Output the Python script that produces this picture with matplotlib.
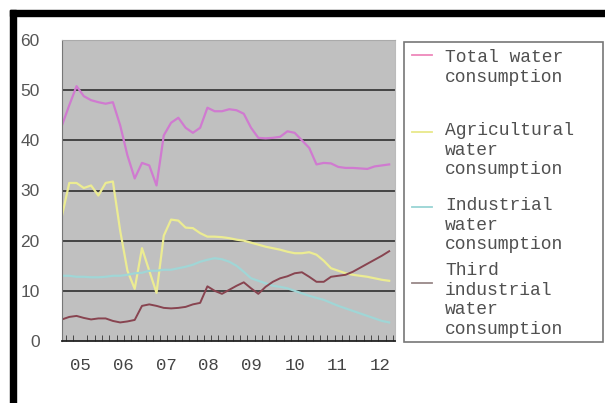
import matplotlib.pyplot as plt
from matplotlib.lines import Line2D
from matplotlib.patches import Rectangle

# values (46 points, 2005-2012)
total = [43.0, 47.0, 50.8, 48.8, 48.0, 47.6, 47.3, 47.6, 43.0, 37.0, 32.4, 35.5,
         35.0, 31.0, 41.0, 43.5, 44.5, 42.5, 41.5, 42.5, 46.5, 45.8, 45.8, 46.2,
         46.0, 45.3, 42.5, 40.5, 40.4, 40.5, 40.7, 41.8, 41.5, 40.0, 38.5, 35.2,
         35.5, 35.4, 34.7, 34.5, 34.5, 34.4, 34.3, 34.8, 35.0, 35.2]
agricultural = [25.0, 31.5, 31.5, 30.5, 31.0, 29.0, 31.5, 31.8, 22.0, 14.0, 10.4, 18.5,
                14.0, 9.6, 21.0, 24.2, 24.0, 22.6, 22.5, 21.5, 20.8, 20.8, 20.7, 20.5,
                20.2, 20.0, 19.6, 19.2, 18.8, 18.5, 18.2, 17.8, 17.5, 17.5, 17.7, 17.2,
                16.0, 14.5, 14.0, 13.5, 13.2, 13.0, 12.8, 12.5, 12.2, 12.0]
industrial = [13.0, 13.0, 12.8, 12.8, 12.7, 12.7, 12.8, 13.0, 13.0, 13.2, 13.5, 13.6,
              14.0, 14.0, 14.2, 14.2, 14.5, 14.8, 15.2, 15.8, 16.2, 16.5, 16.3, 15.8,
              15.0, 13.8, 12.5, 12.0, 11.5, 11.0, 10.8, 10.5, 10.0, 9.5, 9.0, 8.6,
              8.2, 7.6, 7.0, 6.5, 6.0, 5.5, 5.0, 4.5, 4.0, 3.7]
third = [4.3, 4.8, 5.0, 4.6, 4.3, 4.5, 4.5, 4.0, 3.7, 3.9, 4.2, 7.0,
         7.3, 7.0, 6.6, 6.5, 6.6, 6.8, 7.3, 7.6, 10.9, 10.0, 9.4, 10.2,
         11.0, 11.7, 10.5, 9.4, 10.8, 11.8, 12.5, 12.9, 13.5, 13.7, 12.8, 11.8,
         11.8, 12.8, 13.0, 13.2, 13.8, 14.6, 15.4, 16.2, 17.0, 17.9]
year_labels = ['05', '06', '07', '08', '09', '10', '11', '12']
year_pos = [2.5, 8.4, 14.3, 20.2, 26.1, 32.0, 37.9, 43.8]
legend_labels = ['Total water\nconsumption',
                 'Agricultural\nwater\nconsumption',
                 'Industrial\nwater\nconsumption',
                 'Third\nindustrial\nwater\nconsumption']
colors = ['#d07ad0', '#ecec92', '#a0d6d6', '#884450']
legend_colors = ['#ee88bb', '#e8e88a', '#99d4d4', '#998888']

fig = plt.figure(figsize=(6.05, 4.03), dpi=100)
W, H = 605, 403

ax = fig.add_axes([62 / W, 1 - 341 / H, 333 / W, 301 / H])
ax.set_facecolor('#c0c0c0')

x = list(range(len(total)))
widths = [1.6, 1.6, 1.6, 1.4]
for series, c, lw in zip([total, agricultural, industrial, third], colors, widths):
    ax.plot(x, series, color=c, lw=lw)

ax.set_xlim(0, 45.8)
ax.set_ylim(0, 60)
ax.set_yticks(range(0, 61, 10))
for yv in range(10, 60, 10):
    ax.axhline(yv, color='#3a3a3a', lw=1.3, zorder=0.5)

ax.set_xticks(year_pos)
ax.set_xticklabels(year_labels, family='Liberation Mono', fontsize=12.5, color='#444444')
ax.set_xticks([i + 0.5 for i in range(46)], minor=True)
ax.tick_params(axis='x', which='major', length=0, pad=12)
ax.tick_params(axis='x', which='minor', direction='in', length=4, color='#333333')
ax.tick_params(axis='y', length=0, pad=16, labelsize=12.5, labelcolor='#555555')
for lab in ax.get_yticklabels():
    lab.set_family('Liberation Sans')

ax.spines['bottom'].set_color('#222222')
ax.spines['bottom'].set_linewidth(1.3)
ax.spines['left'].set_color('#777777')
ax.spines['top'].set_color('#aaaaaa')
ax.spines['right'].set_color('#bbbbbb')

# legend box drawn beside the plot
fig.add_artist(Rectangle((404 / W, 1 - 342 / H), 199 / W, 300 / H,
                         transform=fig.transFigure, fill=False,
                         edgecolor='#777777', lw=1.2))
handle_y = [55, 132, 207, 283]
text_top = [49, 122, 197, 262]
for lab, c, hy, ty in zip(legend_labels, legend_colors, handle_y, text_top):
    fig.add_artist(Line2D([412 / W, 432 / W], [1 - hy / H, 1 - hy / H],
                          transform=fig.transFigure, color=c, lw=1.3))
    fig.text(445 / W, 1 - ty / H, lab, family='Liberation Mono', fontsize=13,
             color='#505050', va='top', ha='left', linespacing=1.2)

# thick black frame on top and left edge
fig.add_artist(Rectangle((10 / W, 1 - 16 / H), 595 / W, 6 / H,
                         transform=fig.transFigure, color='black'))
fig.add_artist(Rectangle((10 / W, 0), 6 / W, 1 - 10 / H,
                         transform=fig.transFigure, color='black'))

fig.savefig('out.png', dpi=100)
